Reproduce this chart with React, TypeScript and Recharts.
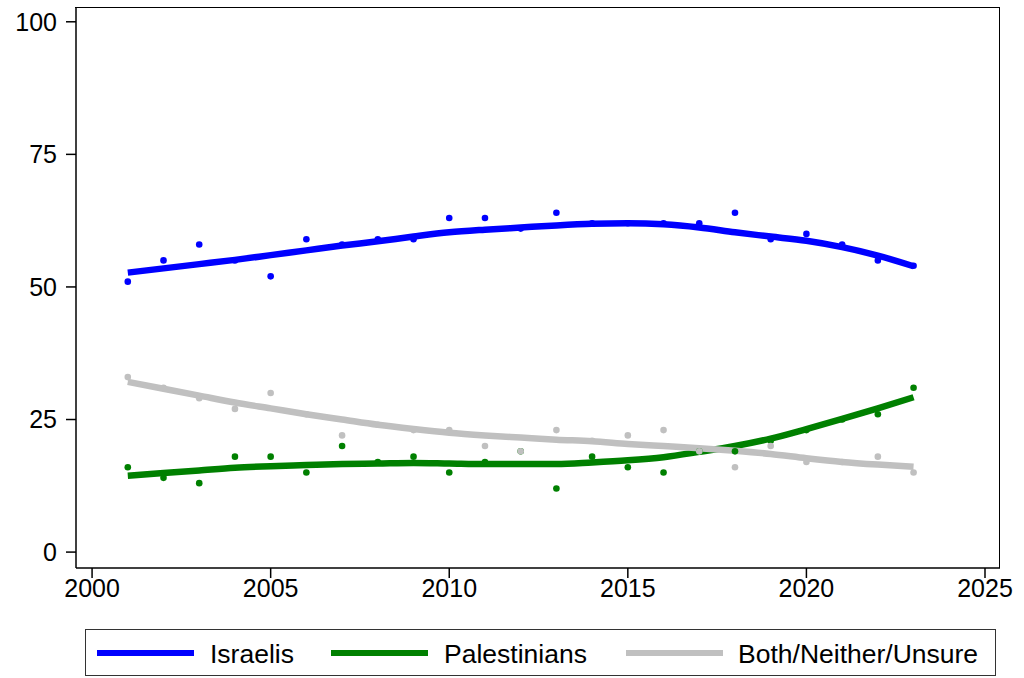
import React from 'react';
import { ComposedChart, Line, XAxis, YAxis } from 'recharts';

const years = [2001, 2002, 2003, 2004, 2005, 2006, 2007, 2008, 2009, 2010, 2011, 2012, 2013, 2014, 2015, 2016, 2017, 2018, 2019, 2020, 2021, 2022, 2023];

// survey points
const israelis = [51, 55, 58, 55, 52, 59, 58, 59, 59, 63, 63, 61, 64, 62, 62, 62, 62, 64, 59, 60, 58, 55, 54];
const palestinians = [16, 14, 13, 18, 18, 15, 20, 17, 18, 15, 17, 19, 12, 18, 16, 15, 19, 19, 21, 23, 25, 26, 31];
const unsure = [33, 31, 29, 27, 30, 26, 22, 24, 23, 23, 20, 19, 23, 21, 22, 23, 19, 16, 20, 17, 17, 18, 15];

// smoothed fits
const israelisFit = [52.7, 53.5, 54.3, 55.1, 56.0, 56.9, 57.8, 58.6, 59.5, 60.3, 60.8, 61.2, 61.6, 61.9, 62.0, 61.8, 61.2, 60.3, 59.5, 58.7, 57.5, 55.9, 53.9];
const palestiniansFit = [14.4, 14.9, 15.4, 15.9, 16.2, 16.4, 16.6, 16.7, 16.8, 16.7, 16.6, 16.6, 16.6, 16.9, 17.3, 17.9, 18.9, 20.0, 21.4, 23.2, 25.1, 27.1, 29.2];
const unsureFit = [32.1, 30.8, 29.5, 28.2, 27.1, 26.0, 25.0, 24.0, 23.2, 22.5, 22.0, 21.6, 21.2, 20.9, 20.4, 20.0, 19.6, 19.1, 18.5, 17.7, 17.0, 16.5, 16.1];

const xTicks = [2000, 2005, 2010, 2015, 2020, 2025];
const yTicks = [0, 25, 50, 75, 100];

const BLUE = '#0000ff';
const GREEN = '#008000';
const GRAY = '#c0c0c0';
const FONT = '"Liberation Sans", Arial, Helvetica, sans-serif';

const data = years.map((year, i) => ({
  year,
  isr: israelis[i],
  pal: palestinians[i],
  uns: unsure[i],
  isrFit: israelisFit[i],
  palFit: palestiniansFit[i],
  unsFit: unsureFit[i],
}));

const legendItems = [
  { label: 'Israelis', color: BLUE, lineLeft: 97, textLeft: 210 },
  { label: 'Palestinians', color: GREEN, lineLeft: 331, textLeft: 444 },
  { label: 'Both/Neither/Unsure', color: GRAY, lineLeft: 626, textLeft: 738 },
];

const tickStyle = { fontSize: 25, fill: '#000', fontFamily: FONT };

export default function App() {
  return (
    <div style={{ position: 'absolute', left: 0, top: 0, width: 1024, height: 678, background: '#fff', fontFamily: FONT }}>
      <ComposedChart width={1024} height={620} data={data} margin={{ top: 8, right: 24, bottom: 0, left: 0 }}>
        <XAxis
          dataKey="year"
          type="number"
          domain={[1999.55, 2025.42]}
          ticks={xTicks}
          allowDataOverflow
          height={52}
          tickSize={10}
          tickMargin={1}
          tick={tickStyle}
          stroke="#000"
          strokeWidth={1.5}
        />
        <YAxis
          type="number"
          domain={[-3, 102.6]}
          ticks={yTicks}
          allowDataOverflow
          width={76}
          tickSize={10}
          tickMargin={9}
          tick={tickStyle}
          stroke="#000"
          strokeWidth={1.5}
        />

        <Line dataKey="isr" stroke="none" dot={{ r: 3.3, fill: BLUE, stroke: 'none' }} activeDot={false} isAnimationActive={false} />
        <Line dataKey="pal" stroke="none" dot={{ r: 3.3, fill: GREEN, stroke: 'none' }} activeDot={false} isAnimationActive={false} />
        <Line dataKey="uns" stroke="none" dot={{ r: 3.3, fill: GRAY, stroke: 'none' }} activeDot={false} isAnimationActive={false} />

        <Line type="monotone" dataKey="isrFit" stroke={BLUE} strokeWidth={6.5} dot={false} activeDot={false} isAnimationActive={false} />
        <Line type="monotone" dataKey="palFit" stroke={GREEN} strokeWidth={6.5} dot={false} activeDot={false} isAnimationActive={false} />
        <Line type="monotone" dataKey="unsFit" stroke={GRAY} strokeWidth={6.5} dot={false} activeDot={false} isAnimationActive={false} />
      </ComposedChart>

      {/* top and right edges of the plot frame */}
      <div style={{ position: 'absolute', left: 75, top: 7, width: 925, height: 561, borderTop: '1.5px solid #000', borderRight: '1.5px solid #000', boxSizing: 'border-box', pointerEvents: 'none' }} />

      <div style={{ position: 'absolute', left: 85, top: 629, width: 911, height: 47, border: '1.5px solid #333', boxSizing: 'border-box' }} />
      {legendItems.map((item) => (
        <React.Fragment key={item.label}>
          <div style={{ position: 'absolute', left: item.lineLeft, top: 650, width: 97, height: 6, background: item.color }} />
          <div style={{ position: 'absolute', left: item.textLeft, top: 639, fontSize: 26.5, lineHeight: '30px', color: '#000', whiteSpace: 'nowrap' }}>
            {item.label}
          </div>
        </React.Fragment>
      ))}
    </div>
  );
}
